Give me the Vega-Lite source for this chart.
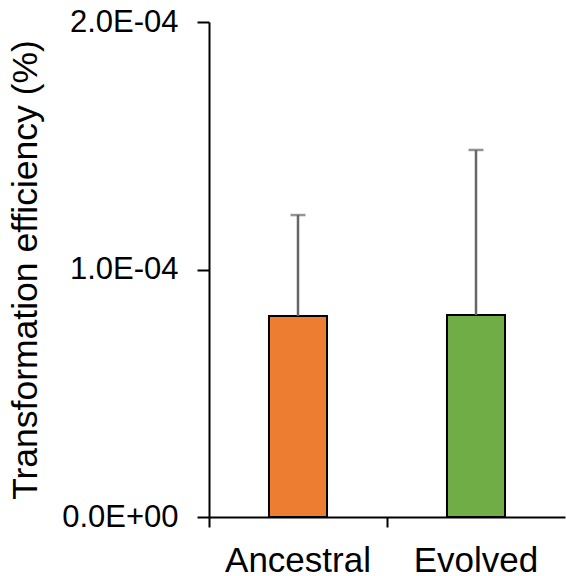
{
  "$schema": "https://vega.github.io/schema/vega-lite/v6.json",
  "width": 356,
  "height": 495,
  "autosize": {"type": "none"},
  "padding": {"left": 209, "top": 22, "right": 1, "bottom": 59},
  "background": "white",
  "config": {
    "view": {"stroke": null},
    "font": "Liberation Sans"
  },
  "data": {
    "values": [
      {"group": "Ancestral", "mean": 0.0000812, "upper": 0.000122},
      {"group": "Evolved", "mean": 0.0000816, "upper": 0.0001483}
    ]
  },
  "encoding": {
    "x": {
      "field": "group",
      "type": "nominal",
      "sort": null,
      "scale": {"paddingInner": 0, "paddingOuter": 0},
      "axis": {
        "title": null,
        "bandPosition": 0,
        "labelAngle": 0,
        "labelFontSize": 35,
        "labelColor": "black",
        "labelPadding": 16,
        "tickSize": 10,
        "tickColor": "black",
        "tickWidth": 2,
        "domainColor": "black",
        "domainWidth": 2,
        "grid": false
      }
    }
  },
  "layer": [
    {
      "mark": {"type": "bar", "width": {"band": 0.326}, "stroke": "black", "strokeWidth": 2},
      "encoding": {
        "y": {
          "field": "mean",
          "type": "quantitative",
          "scale": {"domain": [0, 0.0002], "nice": false},
          "axis": {
            "title": "Transformation efficiency (%)",
            "titleFontSize": 35.5,
            "titleFontWeight": "normal",
            "titleColor": "black",
            "titlePadding": 18,
            "values": [0, 0.0001, 0.0002],
            "labelExpr": "datum.value == 0 ? '0.0E+00' : (datum.value < 0.00015 ? '1.0E-04' : '2.0E-04')",
            "labelFontSize": 31,
            "labelColor": "black",
            "labelPadding": 19,
            "tickSize": 12,
            "tickColor": "black",
            "tickWidth": 2,
            "domainColor": "black",
            "domainWidth": 2,
            "grid": false
          }
        },
        "fill": {
          "field": "group",
          "type": "nominal",
          "scale": {"domain": ["Ancestral", "Evolved"], "range": ["#ED7D31", "#70AD47"]},
          "legend": null
        }
      }
    },
    {
      "mark": {"type": "rule", "color": "#666666", "strokeWidth": 2.5},
      "encoding": {
        "y": {"field": "mean", "type": "quantitative"},
        "y2": {"field": "upper"}
      }
    },
    {
      "mark": {"type": "tick", "color": "#666666", "thickness": 2.5, "size": 15},
      "encoding": {
        "y": {"field": "upper", "type": "quantitative"}
      }
    }
  ]
}
